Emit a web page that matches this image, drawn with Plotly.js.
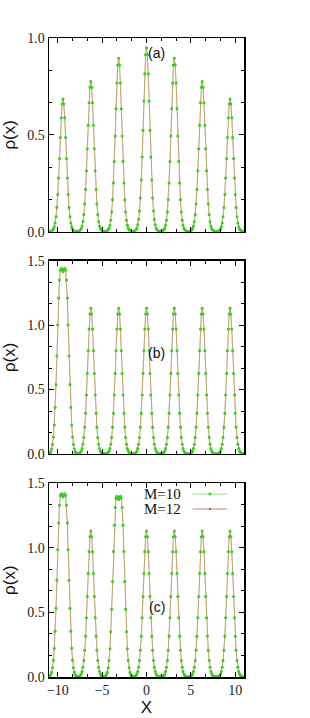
<!DOCTYPE html>
<html>
<head>
<meta charset="utf-8">
<script src="https://cdn.plot.ly/plotly-3.0.1.min.js"></script>
<style>html,body{margin:0;padding:0;background:#fff;}#chart{width:310px;height:718px;}</style>
</head>
<body>
<div id="chart"></div>
<script>
// grid of x positions
const xGrid = [-11.00,-10.90,-10.80,-10.70,-10.60,-10.50,-10.41,-10.31,-10.21,-10.11,-10.01,-9.92,-9.82,-9.72,-9.62,-9.52,-9.42,-9.33,-9.23,-9.13,-9.03,-8.93,-8.84,-8.74,-8.64,-8.54,-8.44,-8.34,-8.25,-8.15,-8.05,-7.95,-7.85,-7.76,-7.66,-7.56,-7.46,-7.36,-7.26,-7.17,-7.07,-6.97,-6.87,-6.77,-6.68,-6.58,-6.48,-6.38,-6.28,-6.19,-6.09,-5.99,-5.89,-5.79,-5.69,-5.60,-5.50,-5.40,-5.30,-5.20,-5.11,-5.01,-4.91,-4.81,-4.71,-4.61,-4.52,-4.42,-4.32,-4.22,-4.12,-4.03,-3.93,-3.83,-3.73,-3.63,-3.53,-3.44,-3.34,-3.24,-3.14,-3.04,-2.95,-2.85,-2.75,-2.65,-2.55,-2.45,-2.36,-2.26,-2.16,-2.06,-1.96,-1.87,-1.77,-1.67,-1.57,-1.47,-1.37,-1.28,-1.18,-1.08,-0.98,-0.88,-0.79,-0.69,-0.59,-0.49,-0.39,-0.29,-0.20,-0.10,
0.00,
0.10,0.20,0.29,0.39,0.49,0.59,0.69,0.79,0.88,0.98,1.08,1.18,1.28,1.37,1.47,1.57,1.67,1.77,1.87,1.96,2.06,2.16,2.26,2.36,2.45,2.55,2.65,2.75,2.85,2.95,3.04,3.14,3.24,3.34,3.44,3.53,3.63,3.73,3.83,3.93,4.03,4.12,4.22,4.32,4.42,4.52,4.61,4.71,4.81,4.91,5.01,5.11,5.20,5.30,5.40,5.50,5.60,5.69,5.79,5.89,5.99,6.09,6.19,6.28,6.38,6.48,6.58,6.68,6.77,6.87,6.97,7.07,7.17,7.26,7.36,7.46,7.56,7.66,7.76,7.85,7.95,8.05,8.15,8.25,8.34,8.44,8.54,8.64,8.74,8.84,8.93,9.03,9.13,9.23,9.33,9.42,9.52,9.62,9.72,9.82,9.92,10.01,10.11,10.21,10.31,10.41,10.50,10.60,10.70,10.80,10.90,11.00];

// panel (a), M=10
const rhoA_M10 = [
0.000,0.001,0.001,0.003,0.007,0.014,0.025,0.045,0.077,0.125,0.192,0.277,0.378,0.486,0.588,0.659,
0.685,
0.659,0.588,0.486,0.378,0.277,0.192,0.125,0.077,0.045,0.025,0.014,0.007,0.003,0.001,0.001,
0.000,
0.001,0.002,0.004,0.008,0.016,0.029,0.051,0.088,0.142,0.217,0.314,0.428,0.550,0.665,0.746,
0.775,
0.746,0.665,0.550,0.428,0.314,0.217,0.142,0.088,0.051,0.029,0.016,0.008,0.004,0.002,0.001,
0.000,
0.001,0.002,0.004,0.009,0.018,0.033,0.059,0.101,0.164,0.251,0.362,0.494,0.635,0.768,0.861,
0.895,
0.861,0.768,0.635,0.494,0.362,0.251,0.164,0.101,0.059,0.033,0.018,0.009,0.004,0.002,0.001,
0.000,
0.001,0.002,0.005,0.010,0.019,0.035,0.063,0.107,0.174,0.266,0.385,0.524,0.675,0.815,0.914,
0.950,
0.914,0.815,0.675,0.524,0.385,0.266,0.174,0.107,0.063,0.035,0.019,0.010,0.005,0.002,0.001,
0.000,
0.001,0.002,0.004,0.009,0.018,0.033,0.059,0.101,0.164,0.251,0.362,0.494,0.635,0.768,0.861,
0.895,
0.861,0.768,0.635,0.494,0.362,0.251,0.164,0.101,0.059,0.033,0.018,0.009,0.004,0.002,0.001,
0.000,
0.001,0.002,0.004,0.008,0.016,0.029,0.051,0.088,0.142,0.217,0.314,0.428,0.550,0.665,0.746,
0.775,
0.746,0.665,0.550,0.428,0.314,0.217,0.142,0.088,0.051,0.029,0.016,0.008,0.004,0.002,0.001,
0.000,
0.001,0.001,0.003,0.007,0.014,0.025,0.045,0.077,0.125,0.192,0.277,0.378,0.486,0.588,0.659,
0.685,
0.659,0.588,0.486,0.378,0.277,0.192,0.125,0.077,0.045,0.025,0.014,0.007,0.003,0.001,0.001,0.000];

// panel (b), M=10
const rhoB_M10 = [
0.003,0.008,0.018,0.038,0.073,0.132,0.225,0.360,0.540,0.760,1.000,1.210,1.350,1.425,1.440,1.430,
1.415,
1.430,1.440,1.425,1.350,1.210,1.000,0.760,0.540,0.360,0.225,0.132,0.073,0.038,0.018,0.008,
0.004,
0.002,0.002,0.006,0.011,0.023,0.042,0.075,0.128,0.207,0.316,0.458,0.624,0.802,0.970,1.087,
1.130,
1.087,0.970,0.802,0.624,0.458,0.316,0.207,0.128,0.075,0.042,0.023,0.011,0.006,0.002,0.001,
0.000,
0.001,0.002,0.006,0.011,0.023,0.042,0.075,0.128,0.207,0.316,0.458,0.624,0.802,0.970,1.087,
1.130,
1.087,0.970,0.802,0.624,0.458,0.316,0.207,0.128,0.075,0.042,0.023,0.011,0.006,0.002,0.001,
0.000,
0.001,0.002,0.006,0.011,0.023,0.042,0.075,0.128,0.207,0.316,0.458,0.624,0.802,0.970,1.087,
1.130,
1.087,0.970,0.802,0.624,0.458,0.316,0.207,0.128,0.075,0.042,0.023,0.011,0.006,0.002,0.001,
0.000,
0.001,0.002,0.006,0.011,0.023,0.042,0.075,0.128,0.207,0.316,0.458,0.624,0.802,0.970,1.087,
1.130,
1.087,0.970,0.802,0.624,0.458,0.316,0.207,0.128,0.075,0.042,0.023,0.011,0.006,0.002,0.001,
0.000,
0.001,0.002,0.006,0.011,0.023,0.042,0.075,0.128,0.207,0.316,0.458,0.624,0.802,0.970,1.087,
1.130,
1.087,0.970,0.802,0.624,0.458,0.316,0.207,0.128,0.075,0.042,0.023,0.011,0.006,0.002,0.001,
0.000,
0.001,0.002,0.006,0.011,0.023,0.042,0.075,0.128,0.207,0.316,0.458,0.624,0.802,0.970,1.087,
1.130,
1.087,0.970,0.802,0.624,0.458,0.316,0.207,0.128,0.075,0.042,0.023,0.011,0.006,0.002,0.001,0.000];

// panel (c), M=10
const rhoC_M10 = [
0.003,0.008,0.018,0.037,0.072,0.130,0.222,0.355,0.532,0.749,0.986,1.193,1.331,1.405,1.420,1.410,
1.395,
1.410,1.420,1.405,1.331,1.193,0.986,0.749,0.532,0.355,0.222,0.130,0.072,0.037,0.018,0.008,
0.004,
0.002,0.002,0.006,0.011,0.023,0.042,0.075,0.128,0.207,0.316,0.458,0.624,0.802,0.970,1.087,
1.130,
1.087,0.970,0.802,0.624,0.458,0.316,0.207,0.128,0.075,0.042,0.023,0.011,0.006,0.002,0.002,
0.004,
0.008,0.017,0.037,0.071,0.128,0.219,0.350,0.525,0.739,0.972,1.176,1.312,1.385,1.400,1.390,
1.375,
1.390,1.400,1.385,1.312,1.176,0.972,0.739,0.525,0.350,0.219,0.128,0.071,0.037,0.017,0.008,
0.004,
0.002,0.002,0.006,0.011,0.023,0.042,0.075,0.128,0.207,0.316,0.458,0.624,0.802,0.970,1.087,
1.130,
1.087,0.970,0.802,0.624,0.458,0.316,0.207,0.128,0.075,0.042,0.023,0.011,0.006,0.002,0.001,
0.000,
0.001,0.002,0.006,0.011,0.023,0.042,0.075,0.128,0.207,0.316,0.458,0.624,0.802,0.970,1.087,
1.130,
1.087,0.970,0.802,0.624,0.458,0.316,0.207,0.128,0.075,0.042,0.023,0.011,0.006,0.002,0.001,
0.000,
0.001,0.002,0.006,0.011,0.023,0.042,0.075,0.128,0.207,0.316,0.458,0.624,0.802,0.970,1.087,
1.130,
1.087,0.970,0.802,0.624,0.458,0.316,0.207,0.128,0.075,0.042,0.023,0.011,0.006,0.002,0.001,
0.000,
0.001,0.002,0.006,0.011,0.023,0.042,0.075,0.128,0.207,0.316,0.458,0.624,0.802,0.970,1.087,
1.130,
1.087,0.970,0.802,0.624,0.458,0.316,0.207,0.128,0.075,0.042,0.023,0.011,0.006,0.002,0.001,0.000];

// M=12 curves coincide with M=10 at this resolution
const rhoA_M12 = rhoA_M10.slice();
const rhoB_M12 = rhoB_M10.slice();
const rhoC_M12 = rhoC_M10.slice();

const seriesNames = ['M=10', 'M=12'];
const panelLabels = ['(a)', '(b)', '(c)'];
const xTicks = [-10, -5, 0, 5, 10];

const panels = [
  {m10: rhoA_M10, m12: rhoA_M12, xa: 'x',  ya: 'y'},
  {m10: rhoB_M10, m12: rhoB_M12, xa: 'x2', ya: 'y2'},
  {m10: rhoC_M10, m12: rhoC_M12, xa: 'x3', ya: 'y3'}
];

const traces = [];
panels.forEach(p => {
  traces.push({x: xGrid, y: p.m12, xaxis: p.xa, yaxis: p.ya, name: seriesNames[1], mode: 'lines+markers',
    line: {color: 'rgba(185,110,80,0.8)', width: 1}, marker: {size: 2, color: '#b52a1e'}, showlegend: false});
  traces.push({x: xGrid, y: p.m10, xaxis: p.xa, yaxis: p.ya, name: seriesNames[0], mode: 'lines+markers',
    line: {color: 'rgba(150,225,110,0.3)', width: 1}, marker: {size: 3, color: '#3bcc22'}, showlegend: false});
});

const tickFont = {family: 'Liberation Serif, Times New Roman, serif', size: 14, color: '#222'};
const titleFont = {family: 'Liberation Sans, Arial, sans-serif', size: 17, color: '#111'};

function xAxis(anchor, showLabels) {
  return {anchor: anchor, range: [-11, 11], tickvals: xTicks, showticklabels: showLabels,
    showline: true, linecolor: '#000', linewidth: 1.5, mirror: 'allticks',
    ticks: 'inside', ticklen: 5, tickwidth: 1, tickcolor: '#000',
    minor: {ticks: 'inside', ticklen: 3, dtick: 5/3, tick0: 0, tickcolor: '#000', showgrid: false},
    showgrid: false, zeroline: false, tickfont: tickFont, fixedrange: true};
}
function yAxis(anchor, domain, top) {
  return {anchor: anchor, domain: domain, range: [0, top], dtick: 0.5, tickformat: '.1f',
    showline: true, linecolor: '#000', linewidth: 1.5, mirror: 'allticks',
    ticks: 'inside', ticklen: 5, tickwidth: 1, tickcolor: '#000',
    minor: {ticks: 'inside', ticklen: 3, dtick: 0.5/3, tickcolor: '#000', showgrid: false},
    showgrid: false, zeroline: false, tickfont: tickFont,
    title: {text: 'ρ(x)', font: titleFont, standoff: 7}, fixedrange: true};
}

const layout = {
  width: 310, height: 718,
  margin: {l: 49, r: 66, t: 38, b: 41},
  paper_bgcolor: '#fff', plot_bgcolor: '#fff',
  showlegend: false,
  xaxis: xAxis('y', false),
  yaxis: yAxis('x', [0.697, 1], 1.0),
  xaxis2: xAxis('y2', false),
  yaxis2: yAxis('x2', [0.349, 0.6515], 1.5),
  xaxis3: Object.assign(xAxis('y3', true), {title: {text: 'X', font: titleFont, standoff: 3}}),
  yaxis3: yAxis('x3', [0, 0.3031], 1.5),
  annotations: [
    {xref: 'x', yref: 'y', x: 1.16, y: 0.922, text: panelLabels[0], showarrow: false, font: {family: 'Liberation Sans, Arial, sans-serif', size: 14, color: '#111'}},
    {xref: 'x2', yref: 'y2', x: 1.16, y: 0.78, text: panelLabels[1], showarrow: false, font: {family: 'Liberation Sans, Arial, sans-serif', size: 14, color: '#111'}},
    {xref: 'x3', yref: 'y3', x: 1.16, y: 0.543, text: panelLabels[2], showarrow: false, font: {family: 'Liberation Sans, Arial, sans-serif', size: 14, color: '#111'}},
    {xref: 'x3', yref: 'y3', x: 4.1, y: 1.417, xanchor: 'right', text: seriesNames[0], showarrow: false, font: {family: 'Liberation Serif, Times New Roman, serif', size: 15, color: '#111'}},
    {xref: 'x3', yref: 'y3', x: 4.1, y: 1.301, xanchor: 'right', text: seriesNames[1], showarrow: false, font: {family: 'Liberation Serif, Times New Roman, serif', size: 15, color: '#111'}}
  ],
  shapes: [
    {type: 'line', xref: 'x3', yref: 'y3', x0: 5.2, x1: 9.11, y0: 1.417, y1: 1.417, line: {color: 'rgba(110,230,90,0.8)', width: 1}},
    {type: 'rect', xref: 'x3', yref: 'y3', xsizemode: 'pixel', ysizemode: 'pixel', xanchor: 7.15, yanchor: 1.417, x0: -1.2, x1: 1.2, y0: -1.2, y1: 1.2, fillcolor: '#3bcc22', line: {width: 0}},
    {type: 'line', xref: 'x3', yref: 'y3', x0: 5.2, x1: 9.11, y0: 1.301, y1: 1.301, line: {color: 'rgba(200,70,60,0.7)', width: 1}},
    {type: 'rect', xref: 'x3', yref: 'y3', xsizemode: 'pixel', ysizemode: 'pixel', xanchor: 7.15, yanchor: 1.301, x0: -0.8, x1: 0.8, y0: -0.8, y1: 0.8, fillcolor: '#8a1a10', line: {width: 0}}
  ]
};

Plotly.newPlot('chart', traces, layout, {displayModeBar: false, staticPlot: true});
</script>
</body>
</html>
